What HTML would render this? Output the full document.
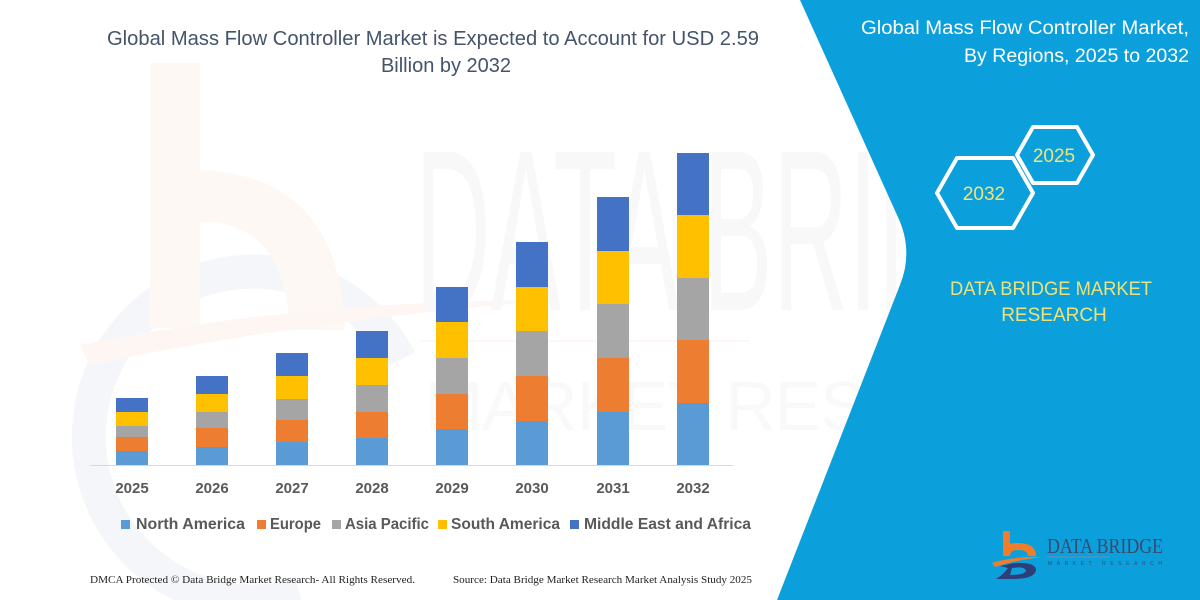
<!DOCTYPE html>
<html>
<head>
<meta charset="utf-8">
<style>
  html, body { margin:0; padding:0; background:#ffffff; }
  body { width:1200px; height:600px; overflow:hidden; position:relative; }
  svg { display:block; position:absolute; left:0; top:0; }
</style>
</head>
<body>
<svg width="1200" height="600" viewBox="0 0 1200 600" xmlns="http://www.w3.org/2000/svg">
  <rect x="0" y="0" width="1200" height="600" fill="#ffffff"/>

  <!-- very faint watermark: logo b + ring -->
  <path d="M400,360 A165,165 0 1 0 300,595" fill="none" stroke="#f5f6f9" stroke-width="34"/>
  <rect x="150" y="63" width="50" height="265" fill="#fef8f5"/>
  <path d="M200,170 Q340,175 345,330 L290,330 Q285,220 200,222 Z" fill="#fef8f5"/>
  <path d="M80,345 Q300,300 560,300 Q300,320 90,365 Z" fill="#fef6f2"/>

  <!-- faint watermark text -->
  <text x="415" y="310" font-family="Liberation Sans, sans-serif" font-size="230" fill="#f8f8f8" textLength="690" lengthAdjust="spacingAndGlyphs">DATA BRIDGE</text>
  <text x="425" y="430" font-family="Liberation Sans, sans-serif" font-size="70" fill="#f9f9f9" textLength="680" lengthAdjust="spacing">MARKET RESEARCH</text>
  <rect x="420" y="340" width="330" height="2" fill="#fef7f3"/>

  <!-- blue right panel -->
  <path d="M800,0 L897,215 Q914,250 900,285 L777,600 L1200,600 L1200,0 Z" fill="#0B9FDB"/>

  <!-- chart title -->
  <text font-family="Liberation Sans, sans-serif" font-size="20" fill="#44546A">
    <tspan x="107" y="45" textLength="652" lengthAdjust="spacingAndGlyphs">Global Mass Flow Controller Market is Expected to Account for USD 2.59</tspan>
  </text>
  <text x="446" y="72" font-family="Liberation Sans, sans-serif" font-size="20" fill="#44546A" text-anchor="middle">Billion by 2032</text>

  <!-- axis -->
  <line x1="90" y1="465.5" x2="733" y2="465.5" stroke="#d9d9d9" stroke-width="1"/>

  <!-- bars -->
  <g>
    <rect x="116" y="451" width="32" height="14" fill="#5B9BD5"/>
    <rect x="116" y="437" width="32" height="14" fill="#ED7D31"/>
    <rect x="116" y="426" width="32" height="11" fill="#A5A5A5"/>
    <rect x="116" y="412" width="32" height="14" fill="#FFC000"/>
    <rect x="116" y="398" width="32" height="14" fill="#4472C4"/>

    <rect x="196" y="447" width="32" height="18" fill="#5B9BD5"/>
    <rect x="196" y="428" width="32" height="19" fill="#ED7D31"/>
    <rect x="196" y="412" width="32" height="16" fill="#A5A5A5"/>
    <rect x="196" y="394" width="32" height="18" fill="#FFC000"/>
    <rect x="196" y="376" width="32" height="18" fill="#4472C4"/>

    <rect x="276" y="442" width="32" height="23" fill="#5B9BD5"/>
    <rect x="276" y="420" width="32" height="22" fill="#ED7D31"/>
    <rect x="276" y="399" width="32" height="21" fill="#A5A5A5"/>
    <rect x="276" y="376" width="32" height="23" fill="#FFC000"/>
    <rect x="276" y="353" width="32" height="23" fill="#4472C4"/>

    <rect x="356" y="438" width="32" height="27" fill="#5B9BD5"/>
    <rect x="356" y="412" width="32" height="26" fill="#ED7D31"/>
    <rect x="356" y="385" width="32" height="27" fill="#A5A5A5"/>
    <rect x="356" y="358" width="32" height="27" fill="#FFC000"/>
    <rect x="356" y="331" width="32" height="27" fill="#4472C4"/>

    <rect x="436" y="429" width="32" height="36" fill="#5B9BD5"/>
    <rect x="436" y="394" width="32" height="35" fill="#ED7D31"/>
    <rect x="436" y="358" width="32" height="36" fill="#A5A5A5"/>
    <rect x="436" y="322" width="32" height="36" fill="#FFC000"/>
    <rect x="436" y="287" width="32" height="35" fill="#4472C4"/>

    <rect x="516" y="421" width="32" height="44" fill="#5B9BD5"/>
    <rect x="516" y="376" width="32" height="45" fill="#ED7D31"/>
    <rect x="516" y="331" width="32" height="45" fill="#A5A5A5"/>
    <rect x="516" y="287" width="32" height="44" fill="#FFC000"/>
    <rect x="516" y="242" width="32" height="45" fill="#4472C4"/>

    <rect x="597" y="412" width="32" height="53" fill="#5B9BD5"/>
    <rect x="597" y="358" width="32" height="54" fill="#ED7D31"/>
    <rect x="597" y="304" width="32" height="54" fill="#A5A5A5"/>
    <rect x="597" y="251" width="32" height="53" fill="#FFC000"/>
    <rect x="597" y="197" width="32" height="54" fill="#4472C4"/>

    <rect x="677" y="403" width="32" height="62" fill="#5B9BD5"/>
    <rect x="677" y="340" width="32" height="63" fill="#ED7D31"/>
    <rect x="677" y="278" width="32" height="62" fill="#A5A5A5"/>
    <rect x="677" y="215" width="32" height="63" fill="#FFC000"/>
    <rect x="677" y="153" width="32" height="62" fill="#4472C4"/>
  </g>

  <!-- year labels -->
  <g font-family="Liberation Sans, sans-serif" font-size="15" font-weight="bold" fill="#595959" text-anchor="middle">
    <text x="132" y="493">2025</text>
    <text x="212" y="493">2026</text>
    <text x="292" y="493">2027</text>
    <text x="372" y="493">2028</text>
    <text x="452" y="493">2029</text>
    <text x="532" y="493">2030</text>
    <text x="613" y="493">2031</text>
    <text x="693" y="493">2032</text>
  </g>

  <!-- legend -->
  <g font-family="Liberation Sans, sans-serif" font-size="15.5" font-weight="bold" fill="#595959">
    <rect x="121" y="520" width="9" height="9" fill="#5B9BD5"/>
    <text x="136" y="529" textLength="109" lengthAdjust="spacingAndGlyphs">North America</text>
    <rect x="257" y="520" width="9" height="9" fill="#ED7D31"/>
    <text x="270" y="529" textLength="51" lengthAdjust="spacingAndGlyphs">Europe</text>
    <rect x="332" y="520" width="9" height="9" fill="#A5A5A5"/>
    <text x="345" y="529" textLength="84" lengthAdjust="spacingAndGlyphs">Asia Pacific</text>
    <rect x="438" y="520" width="9" height="9" fill="#FFC000"/>
    <text x="451" y="529" textLength="109" lengthAdjust="spacingAndGlyphs">South America</text>
    <rect x="570" y="520" width="9" height="9" fill="#4472C4"/>
    <text x="584" y="529" textLength="167" lengthAdjust="spacingAndGlyphs">Middle East and Africa</text>
  </g>

  <!-- footer -->
  <g font-family="Liberation Serif, serif" font-size="11" fill="#222222">
    <text x="90" y="583" textLength="325" lengthAdjust="spacingAndGlyphs">DMCA Protected © Data Bridge Market Research- All Rights Reserved.</text>
    <text x="453" y="583" textLength="299" lengthAdjust="spacingAndGlyphs">Source: Data Bridge Market Research Market Analysis Study 2025</text>
  </g>

  <!-- right panel title -->
  <g font-family="Liberation Sans, sans-serif" font-size="19" fill="#ffffff" text-anchor="end">
    <text x="1189" y="34" textLength="328" lengthAdjust="spacingAndGlyphs">Global Mass Flow Controller Market,</text>
    <text x="1189" y="62" textLength="225" lengthAdjust="spacingAndGlyphs">By Regions, 2025 to 2032</text>
  </g>

  <!-- hexagons -->
  <g fill="none" stroke="#ffffff" stroke-width="4" stroke-linejoin="round">
    <polygon points="1017,155 1033,127 1077,127 1093,155 1077,183 1033,183"/>
    <polygon points="937,193 957,158 1013,158 1033,193 1013,228 957,228"/>
  </g>
  <g font-family="Liberation Sans, sans-serif" font-size="19" fill="#F0E47A" text-anchor="middle">
    <text x="1054" y="162">2025</text>
    <text x="984" y="200">2032</text>
  </g>

  <!-- DBMR text -->
  <g font-family="Liberation Sans, sans-serif" font-size="19" fill="#EDE27A" text-anchor="middle">
    <text x="1051" y="295" textLength="202" lengthAdjust="spacingAndGlyphs">DATA BRIDGE MARKET</text>
    <text x="1054" y="321">RESEARCH</text>
  </g>

  <!-- logo -->
  <g>
    <rect x="1003" y="531" width="7" height="22" fill="#F07D2A"/>
    <path d="M1003,551 Q1003,543 1018,543 Q1036,543 1036,556 L1028,556 Q1028,550 1018,550 Q1010,550 1010,556 L1003,556 Z" fill="#F07D2A"/>
    <path d="M992,563 Q1015,556 1042,557 Q1016,560 995,567 Z" fill="#F07D2A"/>
    <path d="M1000,566 L1014,563 Q1036,562 1036,570 Q1035,579 1012,579 L996,579 Q1004,574 1008,568 Z" fill="#2E3E78"/>
    <path d="M1012,568 Q1025,566 1026,571 Q1024,575 1010,575 Z" fill="#0B9FDB"/>
    <text x="1047" y="553" font-family="Liberation Serif, serif" font-size="21" fill="#3A4A6E" textLength="116" lengthAdjust="spacingAndGlyphs">DATA BRIDGE</text>
    <line x1="1047" y1="557" x2="1110" y2="557" stroke="#6E8DB5" stroke-width="1"/>
    <text x="1048" y="565" font-family="Liberation Sans, sans-serif" font-size="5" fill="#3A4A6E" textLength="114" lengthAdjust="spacing">MARKET RESEARCH</text>
  </g>
</svg>
</body>
</html>
